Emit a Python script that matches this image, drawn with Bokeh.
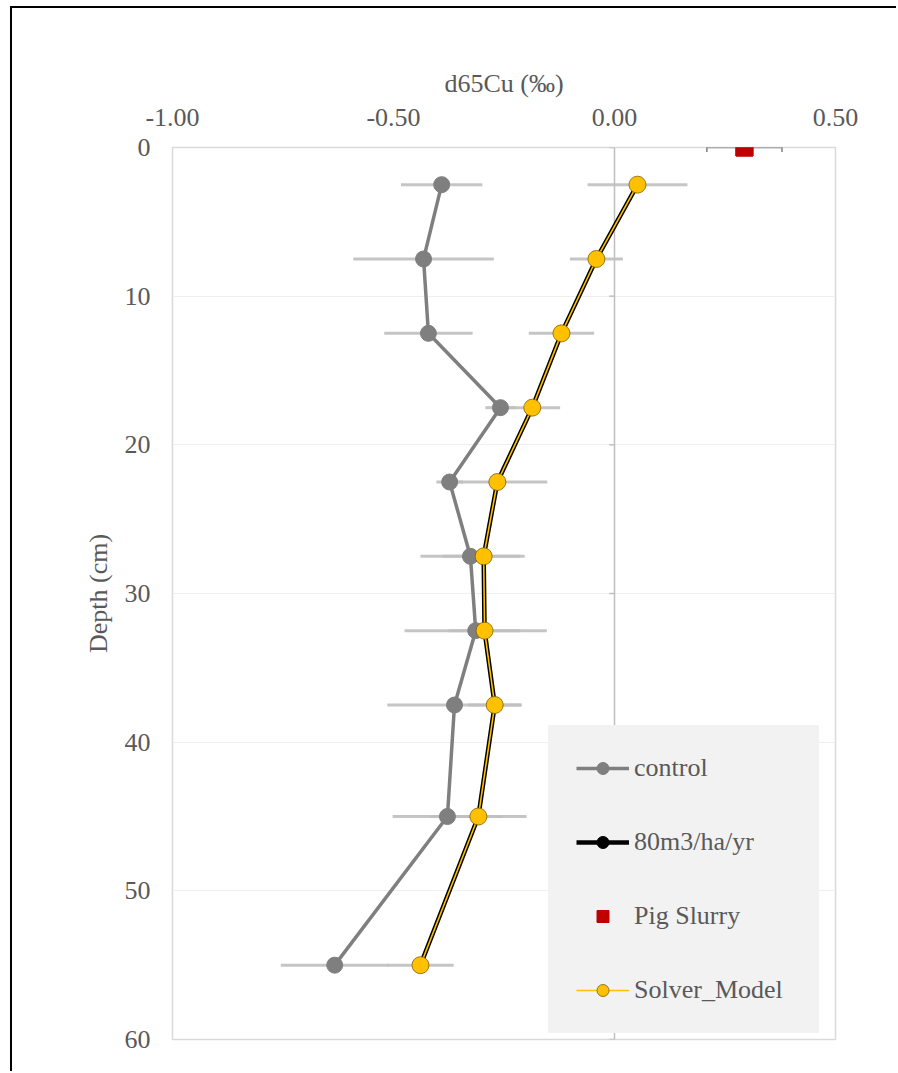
from bokeh.plotting import figure
from bokeh.models import (Range1d, FixedTicker, Span, Whisker, TeeHead, BoxAnnotation,
                          ColumnDataSource, Legend, LegendItem, NumeralTickFormatter)
from bokeh.embed import file_html
from bokeh.resources import INLINE

# ---- data ----
depth = [2.5, 7.5, 12.5, 17.5, 22.5, 27.5, 32.5, 37.5, 45, 55]
control = [-0.391, -0.432, -0.421, -0.258, -0.373, -0.326, -0.314, -0.362, -0.378, -0.633]
control_err = [0.092, 0.159, 0.100, 0.034, 0.030, 0.113, 0.161, 0.152, 0.124, 0.122]
treat80 = [0.052, -0.041, -0.120, -0.186, -0.265, -0.296, -0.294, -0.271, -0.308, -0.439]
treat80_err = [0.113, 0.060, 0.074, 0.063, 0.113, 0.093, 0.081, 0.060, 0.109, 0.075]
solver = [0.052, -0.041, -0.120, -0.186, -0.265, -0.296, -0.294, -0.271, -0.308, -0.439]
pig_depth = [0]
pig = [0.294]
pig_err = [0.085]
x_ticks = [-1.0, -0.5, 0.0, 0.5]
y_ticks = [0, 10, 20, 30, 40, 50, 60]

FONT = "Liberation Serif"
TXT = "#595959"
FS = "26px"

p = figure(width=886, height=1065, output_backend="svg", toolbar_location=None,
           x_range=Range1d(-1.0, 0.5), y_range=Range1d(60, 0),
           x_axis_location="above", min_border_left=160, min_border_right=63,
           min_border_top=139, min_border_bottom=34)
p.margin = (6, 0, 0, 10)
p.styles = {"border-left": "2px solid black", "border-top": "2px solid black"}

p.outline_line_color = "#d9d9d9"
p.outline_line_width = 1.5
p.background_fill_color = "white"
p.border_fill_color = "white"

xa = p.xaxis[0]
xa.ticker = FixedTicker(ticks=x_ticks)
xa.formatter = NumeralTickFormatter(format="0.00")
xa.axis_label = "d65Cu (‰)"
ya = p.yaxis[0]
ya.ticker = FixedTicker(ticks=y_ticks)
ya.axis_label = "Depth (cm)"
for ax in [xa, ya]:
    ax.axis_line_color = None
    ax.major_tick_line_color = None
    ax.minor_tick_line_color = None
    ax.major_tick_out = 0
    ax.major_tick_in = 0
    ax.minor_tick_out = 0
    ax.major_label_text_font = FONT
    ax.major_label_text_font_size = FS
    ax.major_label_text_color = TXT
    ax.axis_label_text_font = FONT
    ax.axis_label_text_font_size = FS
    ax.axis_label_text_color = TXT
    ax.axis_label_text_font_style = "normal"
xa.major_label_standoff = 22
xa.axis_label_standoff = 8
ya.major_label_standoff = 22
ya.axis_label_standoff = 9

p.xgrid.visible = False
p.ygrid.ticker = FixedTicker(ticks=y_ticks)
p.ygrid.grid_line_color = "#efefef"
p.ygrid.grid_line_width = 1

# vertical zero axis line with small ticks
p.add_layout(Span(location=0, dimension="height", line_color="#bfbfbf", line_width=1.5,
                  level="underlay"))
p.segment(x0=[0] * len(y_ticks), x1=[-0.012] * len(y_ticks), y0=y_ticks, y1=y_ticks,
          line_color="#bfbfbf", line_width=1.5)

# error bars
cs = ColumnDataSource(dict(y=depth, lo=[c - e for c, e in zip(control, control_err)],
                           hi=[c + e for c, e in zip(control, control_err)]))
ts = ColumnDataSource(dict(y=depth, lo=[c - e for c, e in zip(treat80, treat80_err)],
                           hi=[c + e for c, e in zip(treat80, treat80_err)]))
p.segment(x0="lo", x1="hi", y0="y", y1="y", source=cs, line_color="#bfbfbf",
          line_width=3, line_alpha=0.9)
p.segment(x0="lo", x1="hi", y0="y", y1="y", source=ts, line_color="#bfbfbf",
          line_width=3, line_alpha=0.9)

# control
c_line = p.line(control, depth, line_color="#7f7f7f", line_width=3.5)
c_pts = p.scatter(control, depth, marker="circle", size=16, fill_color="#7f7f7f",
                  line_color="#7f7f7f")

# 80 m3/ha/yr
t_line = p.line(treat80, depth, line_color="black", line_width=4.5)
t_pts = p.scatter(treat80, depth, marker="circle", size=13, fill_color="black",
                  line_color="black")

# solver model
s_line = p.line(solver, depth, line_color="#ffc000", line_width=1.6)
s_pts = p.scatter(solver, depth, marker="circle", size=17, fill_color="#ffc000",
                  line_color="#7f6000", line_width=0.8)

# pig slurry
ps = ColumnDataSource(dict(y=pig_depth, x=pig, lo=[a - e for a, e in zip(pig, pig_err)],
                           hi=[a + e for a, e in zip(pig, pig_err)]))
p.add_layout(Whisker(source=ps, base="y", lower="lo", upper="hi", dimension="width",
                     line_color="#7f7f7f", line_width=1.5,
                     lower_head=TeeHead(size=9, line_color="#7f7f7f", line_width=1.5),
                     upper_head=TeeHead(size=9, line_color="#7f7f7f", line_width=1.5)))
p_pts = p.scatter("x", "y", source=ps, marker="square", size=17, fill_color="#c00000",
                  line_color="#c00000")
# full (unclipped) marker at the frame edge: box of ~17 px around the data point
hx = 8.5 / 442.0
hy = 8.5 / (892.0 / 60.0)
p.add_layout(BoxAnnotation(left=pig[0] - hx, right=pig[0] + hx,
                           top=pig_depth[0] - hy, bottom=pig_depth[0] + hy,
                           fill_color="#c00000", fill_alpha=1, line_color="#c00000",
                           line_alpha=1, level="overlay"))

legend = Legend(items=[
    LegendItem(label="control", renderers=[c_line, c_pts]),
    LegendItem(label="80m3/ha/yr", renderers=[t_line, t_pts]),
    LegendItem(label="Pig Slurry", renderers=[p_pts]),
    LegendItem(label="Solver_Model", renderers=[s_line, s_pts]),
], location=(376, 6))
legend.glyph_width = 53
legend.glyph_height = 30
legend.label_height = 30
legend.label_width = 157
legend.label_standoff = 5
legend.spacing = 44
legend.padding = 0
legend.margin = 0
legend.border_line_color = "#f2f2f2"
legend.border_line_width = 28
legend.border_line_join = "miter"
legend.background_fill_color = "#f2f2f2"
legend.background_fill_alpha = 1
legend.label_text_font = FONT
legend.label_text_font_size = FS
legend.label_text_color = TXT
p.add_layout(legend, "center")

open("out.html", "w").write(file_html(p, INLINE))
